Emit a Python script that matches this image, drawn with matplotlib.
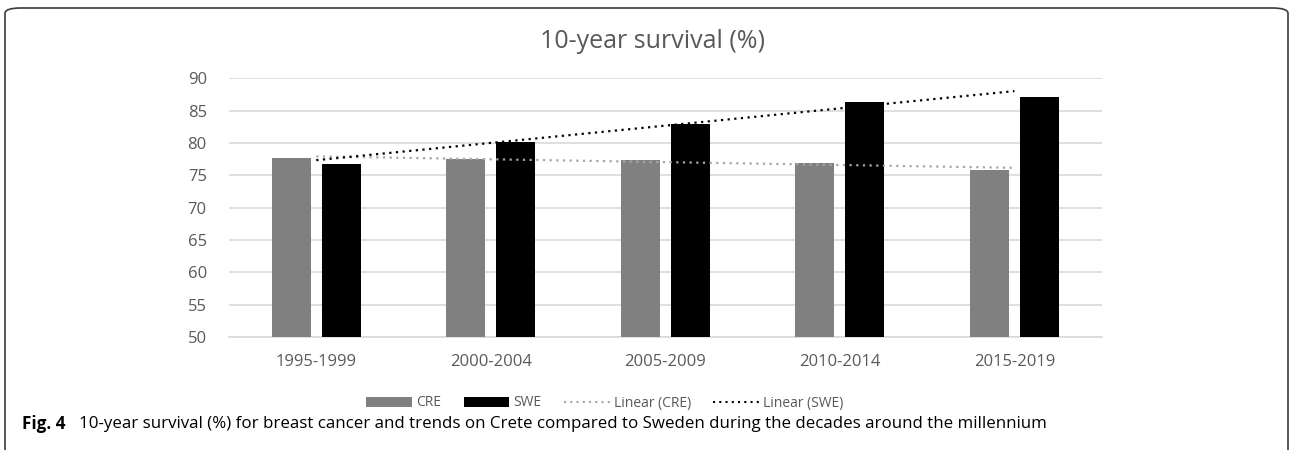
import matplotlib
matplotlib.use("Agg")
import matplotlib.pyplot as plt
import numpy as np
from matplotlib.patches import FancyBboxPatch, Patch
from matplotlib.lines import Line2D

categories = ["1995-1999", "2000-2004", "2005-2009", "2010-2014", "2015-2019"]
cre = [77.7, 77.5, 77.3, 76.9, 75.8]
swe = [76.8, 80.2, 83.0, 86.3, 87.1]
yticks = [50, 55, 60, 65, 70, 75, 80, 85, 90]
title = "10-year survival (%)"
caption_bold = "Fig. 4"
caption = "10-year survival (%) for breast cancer and trends on Crete compared to Sweden during the decades around the millennium"

W, H = 1290, 450
fig = plt.figure(figsize=(W / 100, H / 100), dpi=100)
plt.rcParams['font.family'] = ['Open Sans', 'DejaVu Sans']

# rounded border
box = FancyBboxPatch((5 / W, -20 / H), (1283) / W, (H - 8 + 20) / H,
                     boxstyle="round,pad=0,rounding_size=0.012",
                     transform=fig.transFigure, fill=False,
                     edgecolor="#3a3a3a", linewidth=1.2, clip_on=False)
fig.patches.append(box)

left, right = 229 / W, 1101.7 / W
bottom, top = (H - 337) / H, (H - 78.3) / H
ax = fig.add_axes([left, bottom, right - left, top - bottom])

x = np.arange(len(categories))
bw = 0.224
off = 0.143
ax.bar(x - off, cre, width=bw, color="#808080", zorder=3, label="CRE")
ax.bar(x + off, swe, width=bw, color="#000000", zorder=3, label="SWE")

# linear trends
xf = x + 1
pc = np.polyfit(xf, cre, 1)
ps = np.polyfit(xf, swe, 1)
ax.plot(x, np.polyval(pc, xf), color="#a6a6a6", lw=1.6,
        linestyle=(0, (1, 2.0)), zorder=4)
ax.plot(x, np.polyval(ps, xf), color="#000000", lw=1.6,
        linestyle=(0, (1, 2.0)), zorder=4)

ax.set_xlim(-0.5, 4.5)
ax.set_ylim(50, 90)
ax.set_yticks(yticks)
ax.set_xticks(x)
ax.set_xticklabels(categories)
ax.yaxis.grid(True, color="#d9d9d9", linewidth=1.2, zorder=0)
ax.set_axisbelow(True)
for s in ["top", "right", "left"]:
    ax.spines[s].set_visible(False)
ax.spines["bottom"].set_color("#d9d9d9")
ax.spines["bottom"].set_linewidth(1.2)
ax.tick_params(axis="both", length=0, labelsize=12, colors="#595959")
ax.tick_params(axis="x", pad=12)
ax.tick_params(axis="y", pad=16)

fig.text(652 / W, 1 - 42 / H, title, ha="center", va="center",
         fontsize=18, color="#595959")

handles = [Patch(facecolor="#808080", label="CRE"),
           Patch(facecolor="#000000", label="SWE"),
           Line2D([], [], color="#a6a6a6", lw=1.5, linestyle=(0, (1, 2)), label="Linear (CRE)"),
           Line2D([], [], color="#000000", lw=1.5, linestyle=(0, (1, 2)), label="Linear (SWE)")]
leg = fig.legend(handles=handles, loc="center", bbox_to_anchor=(605 / W, 1 - 403 / H),
                 ncol=4, frameon=False, fontsize=10, handlelength=3.3, handleheight=0.75,
                 handletextpad=0.3, columnspacing=1.6, labelcolor="#595959")

fig.text(22 / W, 1 - 424 / H, caption_bold, ha="left", va="center",
         fontsize=12.3, fontweight="bold", color="#000000")
fig.text(79 / W, 1 - 424 / H, caption, ha="left", va="center",
         fontsize=12.2, color="#000000")

fig.savefig("out.png", dpi=100)
